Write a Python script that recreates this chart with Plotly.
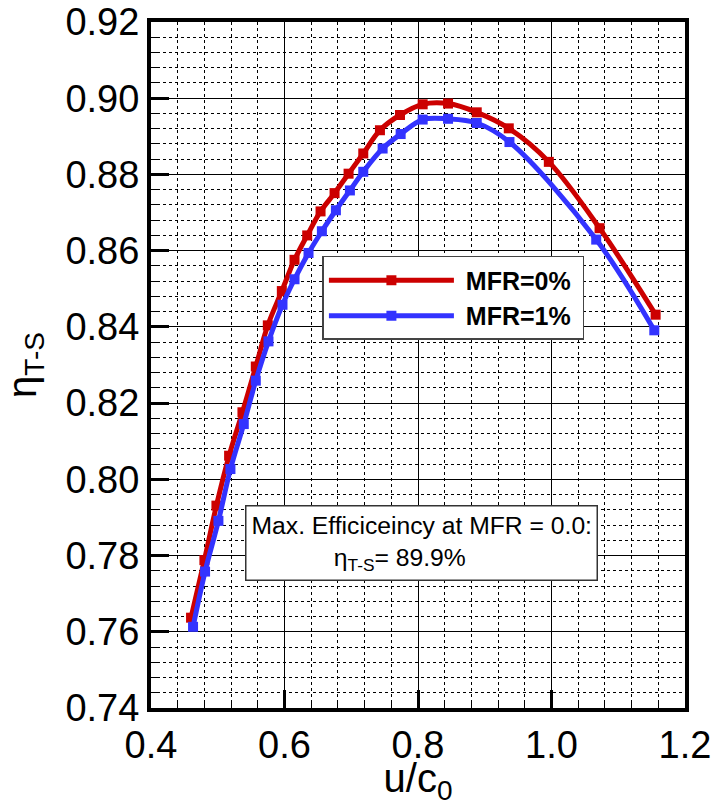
import plotly.graph_objects as go

# ---- data ----
u_c0_mfr0 = [0.460, 0.480, 0.498, 0.517, 0.537, 0.557, 0.575, 0.596, 0.615, 0.634,
             0.654, 0.675, 0.696, 0.718, 0.743, 0.773, 0.807, 0.845, 0.888, 0.936,
             0.996, 1.072, 1.156]
eta_mfr0 = [0.7637, 0.7788, 0.7931, 0.8062, 0.8176, 0.8296, 0.8404, 0.8494, 0.8576, 0.8640,
            0.8703, 0.8751, 0.8802, 0.8855, 0.8916, 0.8956, 0.8984, 0.8986, 0.8963, 0.8921,
            0.8833, 0.8659, 0.8432]

u_c0_mfr1 = [0.463, 0.481, 0.501, 0.519, 0.539, 0.557, 0.576, 0.597, 0.615, 0.636,
             0.656, 0.677, 0.698, 0.718, 0.747, 0.774, 0.807, 0.845, 0.888, 0.937,
             1.067, 1.154]
eta_mfr1 = [0.7613, 0.7758, 0.7891, 0.8027, 0.8145, 0.8259, 0.8362, 0.8458, 0.8525, 0.8594,
            0.8651, 0.8706, 0.8758, 0.8807, 0.8868, 0.8906, 0.8944, 0.8946, 0.8935, 0.8885,
            0.8629, 0.8391]

series_names = ["MFR=0%", "MFR=1%"]
series_colors = ["#CC0000", "#3333FF"]

x_ticks = [0.4, 0.6, 0.8, 1.0, 1.2]
y_ticks = [0.74, 0.76, 0.78, 0.80, 0.82, 0.84, 0.86, 0.88, 0.90, 0.92]

FONT = "Liberation Sans, Arial, sans-serif"

fig = go.Figure()
for xs, ys, name, col in [(u_c0_mfr0, eta_mfr0, series_names[0], series_colors[0]),
                          (u_c0_mfr1, eta_mfr1, series_names[1], series_colors[1])]:
    fig.add_trace(go.Scatter(
        x=xs, y=ys, name="&nbsp;" + name + "&nbsp;", mode="lines+markers",
        line=dict(color=col, width=5, shape="spline", smoothing=1.0),
        marker=dict(symbol="square", size=10, color=col),
    ))

axis_common = dict(
    showline=True, linecolor="black", linewidth=4, mirror=True,
    ticks="inside", ticklen=18, tickwidth=3, tickcolor="black",
    showgrid=True, gridcolor="black", gridwidth=1,
    zeroline=False, automargin=False,
    tickfont=dict(family=FONT, size=38, color="black"),
)

fig.update_xaxes(
    range=[0.4, 1.2], tickvals=x_ticks, ticktext=[f"{v:.1f}" for v in x_ticks],
    minor=dict(dtick=0.04, tick0=0.4, showgrid=True, gridcolor="black", griddash="dot",
               gridwidth=1, ticks="inside", ticklen=8, tickwidth=1, tickcolor="black"),
    title=dict(text="u/c<sub>0</sub>", font=dict(family=FONT, size=40, color="black"), standoff=9),
    **axis_common,
)
fig.update_yaxes(
    range=[0.74, 0.92], tickvals=y_ticks, ticktext=[f"{v:.2f}" for v in y_ticks],
    minor=dict(dtick=0.004, tick0=0.74, showgrid=True, gridcolor="black", griddash="dot",
               gridwidth=1, ticks="inside", ticklen=8, tickwidth=1, tickcolor="black"),
    title=dict(text="η<sub>T-S</sub>", font=dict(family=FONT, size=40, color="black"), standoff=22),
    **axis_common,
)

fig.update_layout(
    width=715, height=806,
    margin=dict(l=151, r=30, t=22, b=98, autoexpand=False),
    paper_bgcolor="white", plot_bgcolor="white",
    font=dict(family=FONT, color="black"),
    showlegend=True,
    legend=dict(
        x=0.321, y=0.659, xanchor="left", yanchor="top",
        bgcolor="white", bordercolor="#444444", borderwidth=1.5,
        font=dict(family=FONT, size=25, color="black", weight="bold"),
        itemwidth=125,
    ),
    annotations=[dict(
        xref="paper", yref="paper", x=0.5065, y=0.2405,
        xanchor="center", yanchor="middle", showarrow=False, align="left",
        text="Max. Efficiceincy at MFR = 0.0:<br>" + "&nbsp;" * 12 + "η<sub>T-S</sub>= 89.9%",
        font=dict(family=FONT, size=24.7, color="black"),
        bgcolor="white", bordercolor="#333333", borderwidth=1.5, borderpad=5,
    )],
)

fig.write_html("out.html")
